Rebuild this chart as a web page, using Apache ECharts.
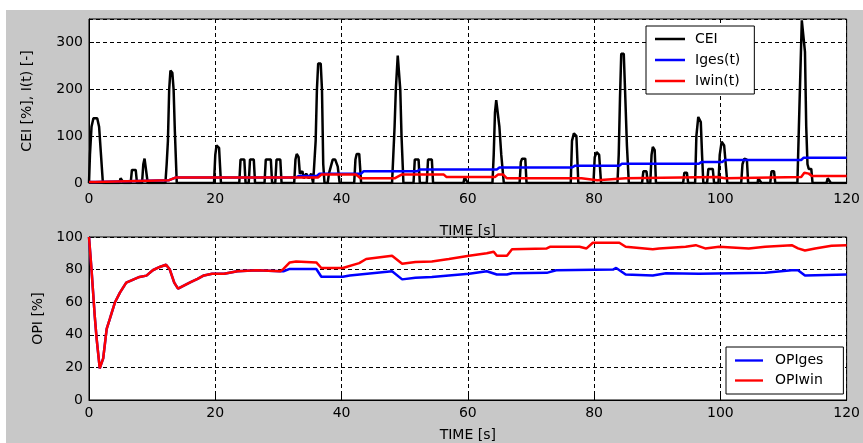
<!DOCTYPE html>
<html lang="en">
<head>
    <meta charset="UTF-8">
    <title>CEI / OPI</title>
    <script src="https://cdn.jsdelivr.net/npm/echarts@6/dist/echarts.min.js"></script>
    <style>
        html, body { margin: 0; padding: 0; background: #fff; }
    </style>
</head>
<body>
<div id="main" style="width: 863px;height:443px;"></div>

<script type="text/javascript">
    // upper plot: CEI [%] and I(t)
    var ceiTime = [0, 0.15, 0.4, 0.7, 1.3, 1.6, 1.9, 2.2,
        4.8, 5.0, 5.3, 5.5, 6.6, 6.8, 7.4, 7.6, 8.4, 8.6, 8.8, 9.1, 9.3,
        12.1, 12.3, 12.5, 12.7, 12.9, 13.2, 13.4, 13.6, 13.9,
        19.8, 20.0, 20.2, 20.6, 20.9, 23.8, 24.0, 24.6, 24.8, 25.3, 25.5, 26.1, 26.3,
        27.8, 28.0, 28.8, 29.0, 29.5, 29.7, 30.3, 30.5,
        32.5, 32.7, 32.9, 33.2, 33.4, 33.8, 34.0, 34.4, 34.8, 35.2, 35.5,
        35.7, 35.9, 36.1, 36.3, 36.7, 36.9, 37.1, 37.3,
        37.8, 38.0, 38.3, 38.6, 39.0, 39.4, 39.7, 42.0, 42.2, 42.4, 42.8, 43.1,
        48.0, 48.2, 48.4, 48.6, 48.9, 49.1, 49.3, 49.5, 49.8,
        51.4, 51.6, 52.2, 52.4, 53.5, 53.7, 54.3, 54.5, 59.3, 59.5, 59.8, 60.0,
        63.9, 64.1, 64.3, 64.5, 64.8, 65.0, 65.3, 65.7, 68.2, 68.4, 68.6, 69.1, 69.3,
        76.3, 76.5, 76.8, 77.2, 77.5, 79.9, 80.1, 80.4, 80.8, 81.1,
        83.7, 83.9, 84.1, 84.3, 84.7, 84.9, 85.2, 85.5,
        87.6, 87.8, 88.3, 88.5, 88.9, 89.1, 89.3, 89.6, 89.8, 94.1, 94.3, 94.7, 94.9,
        96.0, 96.2, 96.5, 96.9, 97.1, 97.3, 97.9, 98.1, 98.8, 99.0,
        99.7, 99.9, 100.2, 100.6, 101.1, 103.3, 103.5, 103.8, 104.2, 104.4,
        105.9, 106.0, 106.3, 106.5, 107.9, 108.1, 108.5, 108.7,
        112.2, 112.4, 112.7, 112.9, 113.2, 113.4, 113.6, 113.8, 114.0, 114.4, 114.6,
        116.8, 117.0, 117.3, 117.5, 120];
    var ceiValue = [0, 60, 120, 138, 138, 120, 60, 0,
        0, 10, 10, 0, 0, 28, 28, 0, 0, 40, 52, 52, 0,
        0, 40, 90, 200, 240, 235, 200, 110, 0,
        0, 60, 80, 75, 0, 0, 50, 50, 0, 0, 50, 50, 0,
        0, 50, 50, 0, 0, 50, 50, 0,
        0, 50, 62, 55, 20, 25, 10, 20, 10, 20, 0,
        0, 90, 200, 255, 255, 200, 40, 0,
        0, 20, 35, 50, 50, 35, 0, 0, 50, 62, 62, 0,
        0, 60, 120, 200, 272, 272, 200, 100, 0,
        0, 50, 50, 0, 0, 50, 50, 0, 0, 12, 12, 0,
        0, 60, 150, 177, 177, 120, 60, 0, 0, 45, 52, 52, 0,
        0, 90, 106, 100, 0, 0, 55, 66, 60, 0,
        0, 60, 180, 276, 276, 200, 80, 0,
        0, 25, 25, 0, 0, 60, 77, 70, 0, 0, 22, 22, 0,
        0, 100, 141, 130, 60, 0, 0, 30, 30, 0,
        0, 60, 88, 80, 0, 0, 40, 52, 50, 0,
        0, 10, 10, 0, 0, 25, 25, 0,
        0, 100, 250, 347, 347, 280, 120, 40, 30, 30, 0,
        0, 10, 10, 0, 0];

    var igesTime = [0, 1.0, 1.3, 12.7, 13.8, 32.8, 33.2, 36.1, 36.5, 43.1, 43.5, 52.0, 52.4,
        64.6, 65.0, 76.5, 77.0, 84.0, 84.4, 96.6, 97.0, 100.3, 100.7, 112.8, 113.2, 120];
    var igesValue = [2, 2, 6, 6, 12, 12, 15, 15, 20, 20, 25, 25, 29,
        29, 33, 33, 37, 37, 41, 41, 45, 45, 49, 49, 54, 54];

    var iwinTime = [0, 1.0, 1.3, 12.7, 13.8, 36.3, 36.8, 42.3, 43.0, 48.4, 49.5, 56.2, 56.6,
        64.3, 64.8, 65.6, 66.2, 78.0, 78.3, 80.5, 80.8, 85.0, 85.3, 99.5, 99.8, 100.8, 101.1,
        112.8, 113.3, 114.0, 114.5, 120];
    var iwinValue = [2, 2, 6, 6, 12, 12, 18, 18, 10, 10, 18, 18, 13,
        13, 18, 18, 10, 10, 6, 6, 10, 10, 13, 13, 10, 10, 13,
        13, 22, 20, 15, 15];

    // lower plot: OPI [%]
    var opiwinTime = [0, 0.4, 0.9, 1.2, 1.7, 2.25, 2.8, 3.3, 4.1, 4.9, 5.9, 7.0, 8.0, 9.1,
        10.1, 11.2, 12.2, 12.8, 13.5, 14.1, 15.1, 16.1, 17.2, 18.2, 19.5, 21.4, 23.5, 26.6,
        30.3, 30.8, 31.8, 32.8, 36.0, 36.8, 40.2, 42.8, 43.9, 48.0, 49.6, 51.7, 54.3, 57.0,
        60.2, 63.0, 64.1, 64.6, 66.2, 67.0, 72.5, 73.0, 77.7, 78.8, 79.8, 84.0, 85.0,
        89.3, 90.3, 94.5, 96.1, 97.6, 99.8, 104.5, 107.1, 111.3, 112.3, 113.4, 115.0, 117.6, 120];
    var opiwinValue = [100, 80, 52, 38, 19.4, 25.5, 43.6, 49.7, 59.8, 65.9, 72, 73.9, 75.5, 76.3,
        79.6, 81.6, 83, 80, 72, 68.3, 70.3, 72.3, 74.3, 76.4, 77.4, 77.4, 79, 79.6,
        79, 80.4, 84.4, 85, 84.4, 81, 81, 84, 86.5, 88.5, 83.6, 84.6, 85, 86.5,
        88.5, 90, 91, 88.5, 88.5, 92.5, 93, 94, 94, 93, 96.5, 96.5, 94,
        92.5, 93, 94, 95, 93, 94, 93, 94, 95, 93, 91.7, 93, 94.6, 95];

    var opigesTime = [0, 0.4, 0.9, 1.2, 1.7, 2.25, 2.8, 3.3, 4.1, 4.9, 5.9, 7.0, 8.0, 9.1,
        10.1, 11.2, 12.2, 12.8, 13.5, 14.1, 15.1, 16.1, 17.2, 18.2, 19.5, 21.4, 23.5, 26.6,
        30.3, 30.8, 31.8, 36.0, 36.8, 40.2, 41.3, 48.0, 49.6, 51.7, 54.3, 57.0,
        60.2, 63.0, 64.6, 66.2, 67.0, 72.5, 74.0, 83.0, 83.5, 85.0,
        89.3, 91.4, 96.6, 107.1, 111.3, 112.3, 113.4, 120];
    var opigesValue = [100, 80, 52, 38, 19.4, 25.5, 43.6, 49.7, 59.8, 65.9, 72, 73.9, 75.5, 76.3,
        79.6, 81.6, 83, 80, 72, 68.3, 70.3, 72.3, 74.3, 76.4, 77.4, 77.4, 79, 79.6,
        79, 79, 80.4, 80.4, 75.6, 75.6, 76.4, 79, 74, 75, 75.4, 76.4,
        77.4, 79, 77, 77, 77.8, 78, 79.6, 80, 81, 77,
        76.4, 77.8, 77.4, 78, 79.6, 79.6, 76.4, 77];

    function pairs(t, v) {
        var out = [];
        for (var i = 0; i < t.length; i++) out.push([t[i], v[i]]);
        return out;
    }

    var font = 'DejaVu Sans';
    var dash = {color: '#000', type: [4, 3], width: 1};
    // flat line sample for the legend (no marker)
    var lineIcon = 'path://M0,0 L30,0 L30,2.5 L0,2.5 Z';

    function timeAxis(gridIndex, labelMargin, nameGap) {
        return {
            type: 'value', gridIndex: gridIndex, min: 0, max: 120, interval: 20,
            name: 'TIME [s]', nameLocation: 'middle', nameGap: nameGap,
            nameTextStyle: {color: '#000', fontFamily: font, fontSize: 14},
            axisLine: {lineStyle: {color: '#000', width: 1}},
            axisTick: {inside: true, length: 5, lineStyle: {color: '#000'}},
            axisLabel: {color: '#000', fontFamily: font, fontSize: 14, margin: labelMargin},
            splitLine: {show: true, lineStyle: dash}
        };
    }

    var chart = echarts.init(document.getElementById('main'));
    var option = {
        animation: false,
        backgroundColor: '#c8c8c8',
        graphic: [
            {type: 'rect', shape: {x: 0, y: 0, width: 863, height: 10}, style: {fill: '#fff'}, z: -10},
            {type: 'rect', shape: {x: 0, y: 0, width: 6, height: 443}, style: {fill: '#fff'}, z: -10}
        ],
        grid: [
            {left: 89, top: 19, right: 11, height: 164, show: true, backgroundColor: '#fff', borderColor: '#000', borderWidth: 1},
            {left: 89, top: 237, right: 11, height: 165, show: true, backgroundColor: '#fff', borderColor: '#000', borderWidth: 1}
        ],
        legend: [
            {
                orient: 'vertical', left: 646, top: 26,
                padding: [6, 14, 6, 9], itemGap: 7, itemWidth: 30, itemHeight: 14,
                icon: lineIcon, symbolKeepAspect: true,
                backgroundColor: '#fff', borderColor: '#000', borderWidth: 1, borderRadius: 0,
                textStyle: {color: '#000', fontFamily: font, fontSize: 14, padding: [0, 0, 0, 5]},
                data: ['CEI', 'Iges(t)', 'Iwin(t)']
            },
            {
                orient: 'vertical', left: 726, top: 347,
                padding: [6.5, 20, 6.5, 9], itemGap: 6, itemWidth: 28, itemHeight: 14,
                icon: lineIcon, symbolKeepAspect: true,
                backgroundColor: '#fff', borderColor: '#000', borderWidth: 1, borderRadius: 0,
                textStyle: {color: '#000', fontFamily: font, fontSize: 14, padding: [0, 0, 0, 7]},
                data: ['OPIges', 'OPIwin']
            }
        ],
        xAxis: [timeAxis(0, 9, 41), timeAxis(1, 6, 28)],
        yAxis: [
            {
                type: 'value', gridIndex: 0, min: 0, max: 350, interval: 100,
                name: 'CEI [%], I(t) [-]', nameLocation: 'middle', nameGap: 55,
                nameTextStyle: {color: '#000', fontFamily: font, fontSize: 14},
                axisLine: {show: true, lineStyle: {color: '#000', width: 1}},
                axisTick: {show: true, inside: true, length: 5, lineStyle: {color: '#000'}},
                axisLabel: {color: '#000', fontFamily: font, fontSize: 14, margin: 6, showMaxLabel: false},
                splitLine: {show: true, lineStyle: dash}
            },
            {
                type: 'value', gridIndex: 1, min: 0, max: 100, interval: 20,
                name: 'OPI [%]', nameLocation: 'middle', nameGap: 39,
                nameTextStyle: {color: '#000', fontFamily: font, fontSize: 14},
                axisLine: {show: true, lineStyle: {color: '#000', width: 1}},
                axisTick: {show: true, inside: true, length: 5, lineStyle: {color: '#000'}},
                axisLabel: {color: '#000', fontFamily: font, fontSize: 14, margin: 6},
                splitLine: {show: true, lineStyle: dash}
            }
        ],
        series: [
            {name: 'CEI', type: 'line', xAxisIndex: 0, yAxisIndex: 0, symbol: 'none',
                color: '#000', lineStyle: {color: '#000', width: 2.5}, data: pairs(ceiTime, ceiValue)},
            {name: 'Iges(t)', type: 'line', xAxisIndex: 0, yAxisIndex: 0, symbol: 'none',
                color: '#0000ff', lineStyle: {color: '#0000ff', width: 2.5}, data: pairs(igesTime, igesValue)},
            {name: 'Iwin(t)', type: 'line', xAxisIndex: 0, yAxisIndex: 0, symbol: 'none',
                color: '#ff0000', lineStyle: {color: '#ff0000', width: 2.5}, data: pairs(iwinTime, iwinValue)},
            {name: 'OPIges', type: 'line', xAxisIndex: 1, yAxisIndex: 1, symbol: 'none',
                color: '#0000ff', lineStyle: {color: '#0000ff', width: 2.5}, data: pairs(opigesTime, opigesValue)},
            {name: 'OPIwin', type: 'line', xAxisIndex: 1, yAxisIndex: 1, symbol: 'none',
                color: '#ff0000', lineStyle: {color: '#ff0000', width: 2.5}, data: pairs(opiwinTime, opiwinValue)}
        ]
    };
    chart.setOption(option);
</script>

</body>
</html>
